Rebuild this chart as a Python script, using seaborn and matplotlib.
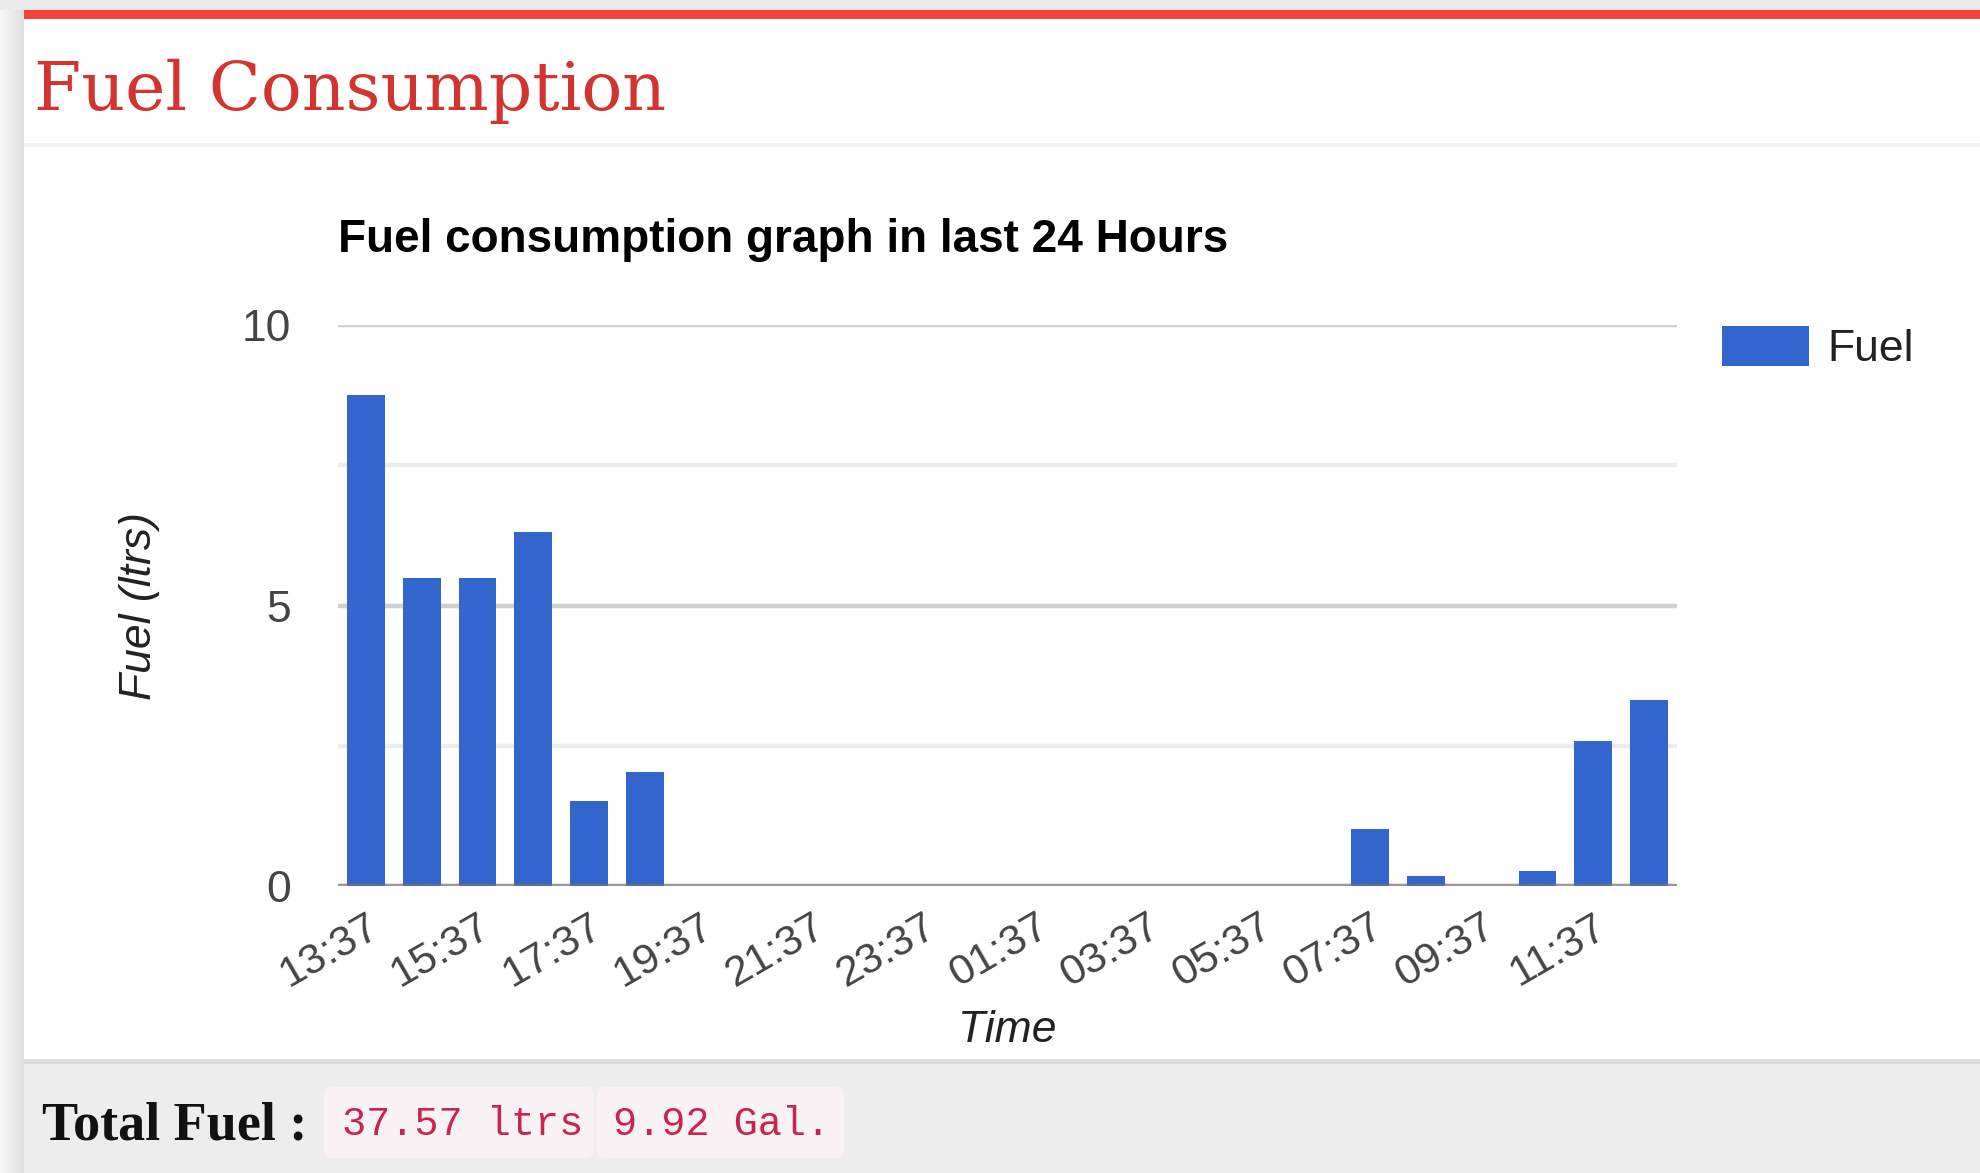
import numpy as np
import pandas as pd
import matplotlib
matplotlib.use("Agg")
import matplotlib.pyplot as plt
import seaborn as sns
from matplotlib.patches import Rectangle, FancyBboxPatch

# ---------------- data ----------------
times = ["13:37", "14:37", "15:37", "16:37", "17:37", "18:37", "19:37", "20:37",
         "21:37", "22:37", "23:37", "00:37", "01:37", "02:37", "03:37", "04:37",
         "05:37", "06:37", "07:37", "08:37", "09:37", "10:37", "11:37", "12:37"]
fuel = [8.75, 5.49, 5.49, 6.31, 1.52, 2.03, 0, 0,
        0, 0, 0, 0, 0, 0, 0, 0,
        0, 0, 1.02, 0.17, 0, 0.26, 2.59, 3.31]
series_name = "Fuel"
y_ticks = [0, 5, 10]
y_minor = [2.5, 7.5]

page_title = "Fuel Consumption"
chart_title = "Fuel consumption graph in last 24 Hours"
x_title = "Time"
y_title = "Fuel (ltrs)"
total_label = "Total Fuel :"
total_ltrs = "37.57 ltrs"
total_gal = "9.92 Gal."

# ---------------- style ----------------
sns.set_theme(style="white")
plt.rcParams["font.family"] = ["Liberation Sans", "DejaVu Sans"]

W, H = 1980, 1173
fig = plt.figure(figsize=(W / 100, H / 100), dpi=100)
fig.patch.set_facecolor("white")

# background / page decoration axes in pixel coordinates
bg = fig.add_axes([0, 0, 1, 1], zorder=0)
bg.set_xlim(0, W)
bg.set_ylim(H, 0)
bg.axis("off")

grad = np.linspace(0.975, 0.875, 24)[None, :, None] * np.ones((1, 1, 3))
bg.imshow(grad, extent=(0, 24, H, 0), aspect="auto", zorder=0, interpolation="bilinear")
bg.add_patch(Rectangle((0, 0), W, 10, color="#ebebeb", zorder=1, lw=0))
bg.add_patch(Rectangle((24, 10), W - 24, 9, color="#f44336", zorder=2, lw=0))
bg.add_patch(Rectangle((24, 143), W - 24, 4, color="#f2f2f2", zorder=2, lw=0))
bg.add_patch(Rectangle((24, 1059), W - 24, 5, color="#dcdcdc", zorder=2, lw=0))
bg.add_patch(Rectangle((24, 1064), W - 24, H - 1064, color="#ededed", zorder=2, lw=0))
for x0, x1 in [(324, 594), (597, 844)]:
    bg.add_patch(FancyBboxPatch((x0 + 8, 1087 + 8), x1 - x0 - 16, 71 - 16,
                                boxstyle="round,pad=8", fc="#f9f2f4", ec="none", zorder=3))

bg.text(34, 110, page_title, family=["DejaVu Serif"], fontsize=49,
        color="#d2352f", va="baseline", ha="left", zorder=4)
bg.text(42, 1140, total_label, family=["Liberation Serif", "DejaVu Serif"],
        weight="bold", fontsize=39, color="#111111", va="baseline", ha="left", zorder=4)
bg.text(342, 1124, total_ltrs, family=["Liberation Mono", "DejaVu Sans Mono"],
        fontsize=29, color="#c7254e", va="center", ha="left", zorder=4)
bg.text(613, 1124, total_gal, family=["Liberation Mono", "DejaVu Sans Mono"],
        fontsize=29, color="#c7254e", va="center", ha="left", zorder=4)

# ---------------- chart ----------------
ax_l, ax_r, ax_t, ax_b = 338, 1677, 325, 886
ax = fig.add_axes([ax_l / W, 1 - ax_b / H, (ax_r - ax_l) / W, (ax_b - ax_t) / H], zorder=1)
ax.patch.set_alpha(0)

df = pd.DataFrame({"Time": times, "Fuel": fuel, "series": series_name})
sns.barplot(data=df, x="Time", y="Fuel", hue="series", palette=["#3366cc"],
            saturation=1, width=0.68, edgecolor="none", linewidth=0, ax=ax, legend=True)

ax.set_ylim(0, 10)
ax.set_xlim(-0.5, len(times) - 0.5)
ax.set_yticks(y_ticks)
ax.set_yticks(y_minor, minor=True)
ax.set_yticklabels([str(v) for v in y_ticks])
ax.set_axisbelow(True)
ax.grid(False)
ax.yaxis.grid(True, which="major", color="#d0d0d0", lw=3.2)
ax.yaxis.grid(True, which="minor", color="#ececec", lw=3.2)
for s in ax.spines.values():
    s.set_visible(False)
ax.axhline(0, color="#757575", alpha=0.6, lw=3.2, zorder=5)

xt = list(range(0, len(times), 2))
ax.set_xticks(xt)
ax.set_xticklabels([times[i] for i in xt], rotation=30, ha="right", va="top",
                   rotation_mode="anchor", fontsize=31, color="#444444")
ax.tick_params(axis="x", length=0, pad=15)
ax.tick_params(axis="y", which="both", length=0, pad=34, labelsize=32, labelcolor="#444444")

ax.set_xlabel(x_title, fontsize=32, style="italic", color="#222222")
ax.set_ylabel(y_title, fontsize=32, style="italic", color="#222222")
ax.xaxis.set_label_coords(0.5, (ax_b - 1010) / (ax_b - ax_t))
ax.yaxis.set_label_coords((160 - ax_l) / (ax_r - ax_l), 0.5)

ax.text(0.0, (ax_b - 240) / (ax_b - ax_t), chart_title, transform=ax.transAxes,
        fontsize=33, weight="bold", color="#000000", va="center", ha="left")

handles, labels = ax.get_legend_handles_labels()
ax.legend(handles, labels, loc="upper left", bbox_to_anchor=(1722 / W, 1 - 326 / H),
          bbox_transform=fig.transFigure, frameon=False, borderpad=0, borderaxespad=0,
          handlelength=1.96, handleheight=1.0, handletextpad=0.42, fontsize=32,
          labelcolor="#222222")

fig.savefig("out.png", dpi=100)
